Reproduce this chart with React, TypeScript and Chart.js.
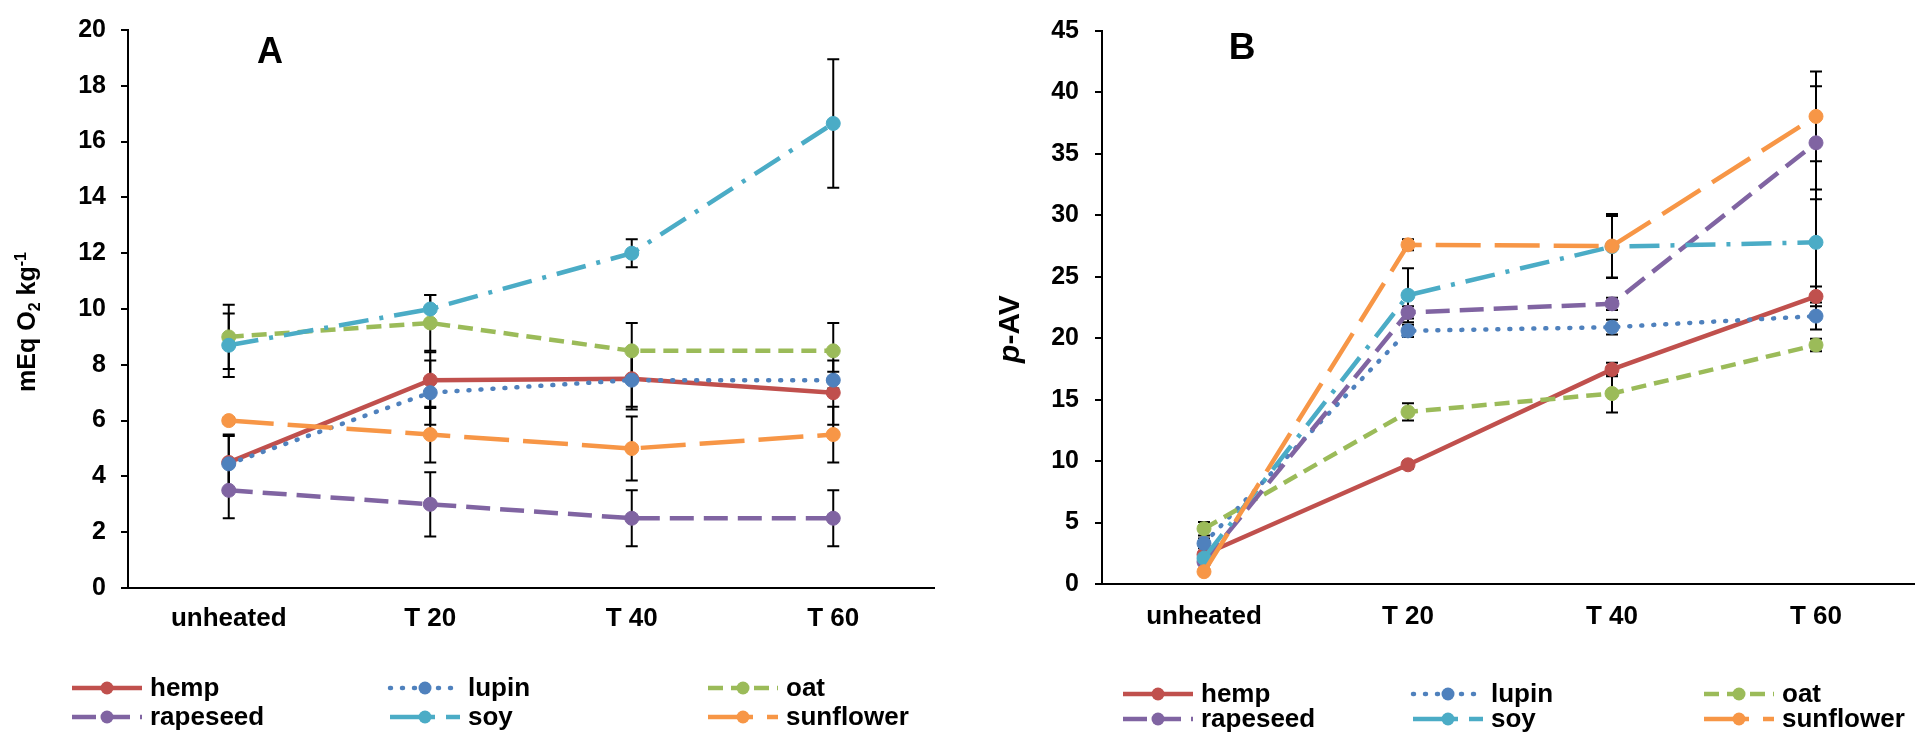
import React, { useEffect, useRef } from 'react';
import { Chart, registerables } from 'chart.js';

Chart.register(...registerables);

const categories = ['unheated', 'T 20', 'T 40', 'T 60'];
const seriesNames = ['hemp', 'lupin', 'oat', 'rapeseed', 'soy', 'sunflower'];
const seriesColors = ['#C0504D', '#4F81BD', '#9BBB59', '#8064A2', '#4BACC6', '#F79646'];
const seriesDashes = [[], [1, 11], [15, 8], [24, 10], [30, 11, 4, 11], [45, 14]];
const seriesCaps = ['butt', 'round', 'butt', 'butt', 'butt', 'butt'];

// Panel A: mEq O2 kg-1
const hempA = [4.5, 7.45, 7.5, 7.0];
const lupinA = [4.45, 7.0, 7.45, 7.45];
const oatA = [9.0, 9.5, 8.5, 8.5];
const rapeseedA = [3.5, 3.0, 2.5, 2.5];
const soyA = [8.7, 10.0, 12.0, 16.65];
const sunflowerA = [6.0, 5.5, 5.0, 5.5];

const hempErrA = [1.0, 1.0, 1.0, 1.15];
const lupinErrA = [1.0, 1.15, 1.05, 0.3];
const oatErrA = [1.15, 1.0, 1.0, 1.0];
const rapeseedErrA = [1.0, 1.15, 1.0, 1.0];
const soyErrA = [1.14, 0.5, 0.5, 2.3];
const sunflowerErrA = [0.1, 1.0, 1.15, 1.0];

// Panel B: p-AV
const hempB = [2.4, 9.7, 17.46, 23.4];
const lupinB = [3.3, 20.6, 20.9, 21.8];
const oatB = [4.5, 14.0, 15.5, 19.45];
const rapeseedB = [1.8, 22.1, 22.8, 35.9];
const soyB = [2.1, 23.5, 27.45, 27.8];
const sunflowerB = [1.0, 27.6, 27.5, 38.05];

const hempErrB = [0.2, 0.3, 0.55, 0.8];
const lupinErrB = [0.4, 0.5, 0.6, 1.1];
const oatErrB = [0.55, 0.7, 1.55, 0.5];
const rapeseedErrB = [0.2, 0.5, 0.5, 4.6];
const soyErrB = [0.2, 2.2, 2.5, 4.3];
const sunflowerErrB = [0.2, 0.45, 2.6, 3.65];

const yTicksA = { min: 0, max: 20, step: 2 };
const yTicksB = { min: 0, max: 45, step: 5 };

const FONT = "'Liberation Sans', Arial, sans-serif";

function makeErrorBarPlugin(errors: number[][]) {
  return {
    id: 'errorBars',
    beforeDatasetsDraw(chart: any) {
      const { ctx } = chart;
      const xs = chart.scales.x;
      const ys = chart.scales.y;
      ctx.save();
      ctx.strokeStyle = '#000';
      ctx.lineWidth = 2;
      chart.data.datasets.forEach((ds: any, i: number) => {
        const errs = errors[i];
        ds.data.forEach((v: number, j: number) => {
          const px = xs.getPixelForValue(j);
          const t = ys.getPixelForValue(v + errs[j]);
          const b = ys.getPixelForValue(v - errs[j]);
          ctx.beginPath();
          ctx.moveTo(px, t);
          ctx.lineTo(px, b);
          ctx.moveTo(px - 6, t);
          ctx.lineTo(px + 6, t);
          ctx.moveTo(px - 6, b);
          ctx.lineTo(px + 6, b);
          ctx.stroke();
        });
      });
      ctx.restore();
    },
  };
}

function makeDecorPlugin(p: any) {
  return {
    id: 'decor',
    afterDraw(chart: any) {
      const { ctx } = chart;
      ctx.save();
      // panel letter
      ctx.fillStyle = '#000';
      ctx.font = `bold ${p.letter.size}px ${FONT}`;
      ctx.textAlign = 'center';
      ctx.textBaseline = 'alphabetic';
      ctx.fillText(p.letter.text, p.letter.x, p.letter.y);

      // y title (rich text, rotated)
      const parts = p.yTitle.parts;
      const fontOf = (q: any) => `${q.italic ? 'italic ' : ''}bold ${q.size}px ${FONT}`;
      const widths: number[] = [];
      let total = 0;
      parts.forEach((q: any) => {
        ctx.font = fontOf(q);
        const w = ctx.measureText(q.text).width;
        widths.push(w);
        total += w;
      });
      ctx.save();
      ctx.translate(p.yTitle.x, p.yTitle.y);
      ctx.rotate(-Math.PI / 2);
      ctx.textAlign = 'left';
      ctx.textBaseline = 'alphabetic';
      let cx = -total / 2;
      parts.forEach((q: any, k: number) => {
        ctx.font = fontOf(q);
        ctx.fillText(q.text, cx, p.yTitle.base + (q.shift || 0));
        cx += widths[k];
      });
      ctx.restore();

      // legend
      const lg = p.legend;
      chart.data.datasets.forEach((ds: any, i: number) => {
        const col = i % 3;
        const row = Math.floor(i / 3);
        const x0 = lg.cols[col];
        const y0 = lg.rows[row];
        ctx.strokeStyle = seriesColors[i];
        ctx.lineWidth = 4.5;
        ctx.setLineDash(seriesDashes[i]);
        ctx.lineCap = seriesCaps[i];
        ctx.beginPath();
        ctx.moveTo(x0, y0);
        ctx.lineTo(x0 + lg.sample, y0);
        ctx.stroke();
        ctx.setLineDash([]);
        ctx.fillStyle = seriesColors[i];
        ctx.beginPath();
        ctx.arc(x0 + lg.sample / 2, y0, 6.5, 0, Math.PI * 2);
        ctx.fill();
        ctx.fillStyle = '#000';
        ctx.font = `bold 26px ${FONT}`;
        ctx.textAlign = 'left';
        ctx.textBaseline = 'middle';
        ctx.fillText(seriesNames[i], x0 + lg.textOffset, y0 + 1);
      });
      ctx.restore();
    },
  };
}

function makeConfig(p: any) {
  const datasets = p.series.map((data: number[], i: number) => ({
    label: seriesNames[i],
    data,
    borderColor: seriesColors[i],
    backgroundColor: seriesColors[i],
    borderWidth: 4.5,
    borderDash: seriesDashes[i],
    borderCapStyle: seriesCaps[i],
    pointRadius: 7,
    pointBorderWidth: 1,
    pointBackgroundColor: seriesColors[i],
    pointBorderColor: seriesColors[i],
    tension: 0,
    fill: false,
    order: 5 - i,
  }));
  return {
    type: 'line',
    data: { labels: categories, datasets },
    plugins: [makeErrorBarPlugin(p.errors), makeDecorPlugin(p)],
    options: {
      animation: false,
      responsive: false,
      devicePixelRatio: 1,
      events: [],
      layout: { padding: { left: 0, top: p.top, right: p.right, bottom: p.bottom } },
      scales: {
        x: {
          type: 'category',
          offset: true,
          grid: { display: false, drawTicks: false },
          border: { display: true, color: '#000', width: 2 },
          ticks: {
            color: '#000',
            font: { family: FONT, size: 26, weight: 'bold' },
            padding: p.xPad,
            autoSkip: false,
            maxRotation: 0,
          },
          afterFit(s: any) { s.height = 50; },
        },
        y: {
          min: p.yt.min,
          max: p.yt.max,
          grid: { display: true, drawOnChartArea: false, drawTicks: true, tickLength: 7, color: '#000', lineWidth: 2 },
          border: { display: true, color: '#000', width: 2 },
          ticks: {
            stepSize: p.yt.step,
            color: '#000',
            font: { family: FONT, size: 25, weight: 'bold' },
            padding: p.yPad,
          },
          afterFit(s: any) { s.width = p.yWidth; },
        },
      },
      plugins: {
        legend: { display: false },
        tooltip: { enabled: false },
      },
    },
  };
}

function Panel(props: { cfg: any; width: number; left: number }) {
  const ref = useRef<HTMLCanvasElement>(null);
  useEffect(() => {
    const chart = new Chart(ref.current as HTMLCanvasElement, makeConfig(props.cfg) as any);
    return () => chart.destroy();
  }, []);
  return (
    <canvas
      ref={ref}
      width={props.width}
      height={733}
      style={{ position: 'absolute', left: props.left, top: 0, width: props.width, height: 733, display: 'block' }}
    />
  );
}

const cfgA = {
  series: [hempA, lupinA, oatA, rapeseedA, soyA, sunflowerA],
  errors: [hempErrA, lupinErrA, oatErrA, rapeseedErrA, soyErrA, sunflowerErrA],
  yt: yTicksA,
  top: 23,
  right: 26,
  bottom: 95,
  yWidth: 128,
  xPad: 15,
  yPad: 15,
  letter: { text: 'A', x: 270, y: 63, size: 36 },
  yTitle: {
    x: 26, y: 322, base: 9,
    parts: [
      { text: 'mEq O', size: 25, shift: 0 },
      { text: '2', size: 16, shift: 5 },
      { text: ' kg', size: 25, shift: 0 },
      { text: '-1', size: 16, shift: -9 },
    ],
  },
  legend: { cols: [72, 390, 708], rows: [688, 717], sample: 70, textOffset: 78 },
};

const cfgB = {
  series: [hempB, lupinB, oatB, rapeseedB, soyB, sunflowerB],
  errors: [hempErrB, lupinErrB, oatErrB, rapeseedErrB, soyErrB, sunflowerErrB],
  yt: yTicksB,
  top: 27,
  right: 42,
  bottom: 99,
  yWidth: 142,
  xPad: 17,
  yPad: 16,
  letter: { text: 'B', x: 282, y: 59, size: 37 },
  yTitle: {
    x: 48, y: 329, base: 11,
    parts: [
      { text: 'p', size: 30, italic: true, shift: 0 },
      { text: '-AV', size: 30, shift: 0 },
    ],
  },
  legend: { cols: [163, 453, 744], rows: [694, 719], sample: 70, textOffset: 78 },
};

export default function App() {
  return (
    <div style={{ position: 'absolute', left: 0, top: 0, width: 1915, height: 733, overflow: 'hidden', background: '#fff' }}>
      <Panel cfg={cfgA} width={960} left={0} />
      <Panel cfg={cfgB} width={1000} left={960} />
    </div>
  );
}
